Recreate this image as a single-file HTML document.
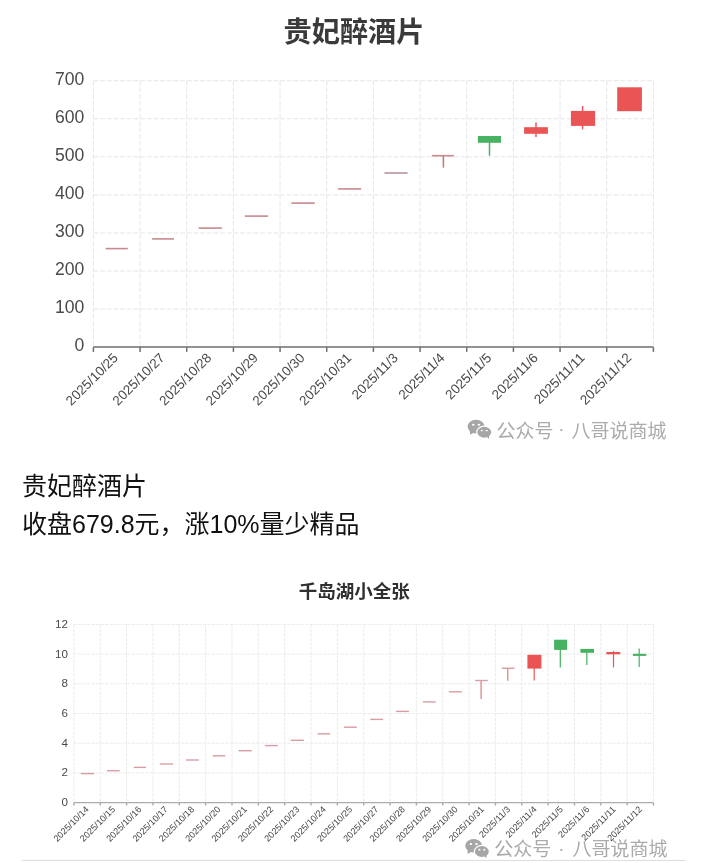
<!DOCTYPE html>
<html><head><meta charset="utf-8"><style>
html,body{margin:0;padding:0;background:#fff;}
body{width:719px;height:863px;overflow:hidden;position:relative;font-family:"Liberation Sans","Noto Sans CJK SC",sans-serif;}
svg{position:absolute;left:0;top:0;}
.p{position:absolute;left:22px;margin:0;font-size:25px;color:#111;white-space:nowrap;line-height:1;}
.wm{position:absolute;font-size:19px;color:#ababab;white-space:nowrap;line-height:1;}
</style></head><body>
<svg width="719" height="863" viewBox="0 0 719 863" font-family="'Liberation Sans', 'Noto Sans CJK SC', sans-serif">
<text x="354" y="41.8" text-anchor="middle" font-size="28.2" font-weight="bold" fill="#3a3a3a" font-family="'Liberation Sans', 'Noto Sans CJK SC', sans-serif">贵妃醉酒片</text>
<g stroke="#e5e6e7" stroke-width="1" stroke-dasharray="4.9 1.77"><line x1="93.4" y1="309.05" x2="653.4" y2="309.05"/><line x1="93.4" y1="271" x2="653.4" y2="271"/><line x1="93.4" y1="232.95" x2="653.4" y2="232.95"/><line x1="93.4" y1="194.9" x2="653.4" y2="194.9"/><line x1="93.4" y1="156.85" x2="653.4" y2="156.85"/><line x1="93.4" y1="118.8" x2="653.4" y2="118.8"/><line x1="93.4" y1="80.75" x2="653.4" y2="80.75"/><line x1="93.4" y1="80.75" x2="93.4" y2="347.1"/><line x1="140.07" y1="80.75" x2="140.07" y2="347.1"/><line x1="186.73" y1="80.75" x2="186.73" y2="347.1"/><line x1="233.4" y1="80.75" x2="233.4" y2="347.1"/><line x1="280.07" y1="80.75" x2="280.07" y2="347.1"/><line x1="326.73" y1="80.75" x2="326.73" y2="347.1"/><line x1="373.4" y1="80.75" x2="373.4" y2="347.1"/><line x1="420.07" y1="80.75" x2="420.07" y2="347.1"/><line x1="466.73" y1="80.75" x2="466.73" y2="347.1"/><line x1="513.4" y1="80.75" x2="513.4" y2="347.1"/><line x1="560.07" y1="80.75" x2="560.07" y2="347.1"/><line x1="606.73" y1="80.75" x2="606.73" y2="347.1"/><line x1="653.4" y1="80.75" x2="653.4" y2="347.1"/></g><g stroke="#6e6e6e" stroke-width="1.5"><line x1="93.4" y1="347.1" x2="653.4" y2="347.1"/><line x1="93.4" y1="347.1" x2="93.4" y2="351.9"/><line x1="140.07" y1="347.1" x2="140.07" y2="351.9"/><line x1="186.73" y1="347.1" x2="186.73" y2="351.9"/><line x1="233.4" y1="347.1" x2="233.4" y2="351.9"/><line x1="280.07" y1="347.1" x2="280.07" y2="351.9"/><line x1="326.73" y1="347.1" x2="326.73" y2="351.9"/><line x1="373.4" y1="347.1" x2="373.4" y2="351.9"/><line x1="420.07" y1="347.1" x2="420.07" y2="351.9"/><line x1="466.73" y1="347.1" x2="466.73" y2="351.9"/><line x1="513.4" y1="347.1" x2="513.4" y2="351.9"/><line x1="560.07" y1="347.1" x2="560.07" y2="351.9"/><line x1="606.73" y1="347.1" x2="606.73" y2="351.9"/><line x1="653.4" y1="347.1" x2="653.4" y2="351.9"/></g><g font-size="17.6" fill="#4a4a4a" text-anchor="end"><text x="84.4" y="351.3">0</text><text x="84.4" y="313.25">100</text><text x="84.4" y="275.2">200</text><text x="84.4" y="237.15">300</text><text x="84.4" y="199.1">400</text><text x="84.4" y="161.05">500</text><text x="84.4" y="123">600</text><text x="84.4" y="84.95">700</text></g><g font-size="13.45" fill="#4a4a4a" text-anchor="end"><text transform="translate(115.73,355.4) rotate(-45)" x="0" y="4.5">2025/10/25</text><text transform="translate(162.4,355.4) rotate(-45)" x="0" y="4.5">2025/10/27</text><text transform="translate(209.07,355.4) rotate(-45)" x="0" y="4.5">2025/10/28</text><text transform="translate(255.73,355.4) rotate(-45)" x="0" y="4.5">2025/10/29</text><text transform="translate(302.4,355.4) rotate(-45)" x="0" y="4.5">2025/10/30</text><text transform="translate(349.07,355.4) rotate(-45)" x="0" y="4.5">2025/10/31</text><text transform="translate(395.73,355.4) rotate(-45)" x="0" y="4.5">2025/11/3</text><text transform="translate(442.4,355.4) rotate(-45)" x="0" y="4.5">2025/11/4</text><text transform="translate(489.07,355.4) rotate(-45)" x="0" y="4.5">2025/11/5</text><text transform="translate(535.73,355.4) rotate(-45)" x="0" y="4.5">2025/11/6</text><text transform="translate(582.4,355.4) rotate(-45)" x="0" y="4.5">2025/11/11</text><text transform="translate(629.07,355.4) rotate(-45)" x="0" y="4.5">2025/11/12</text></g><rect x="105.6" y="247.8" width="22.2" height="1.6" fill="#c98a8f"/><rect x="152.1" y="238.1" width="21.9" height="1.6" fill="#c98a8f"/><rect x="198.6" y="227.3" width="23.3" height="1.6" fill="#c98a8f"/><rect x="244.8" y="215.3" width="23.4" height="1.6" fill="#c98a8f"/><rect x="291.3" y="202.3" width="23.5" height="1.6" fill="#c98a8f"/><rect x="338.1" y="188.1" width="23.1" height="1.6" fill="#c98a8f"/><rect x="384.5" y="172.2" width="23.1" height="1.6" fill="#b8959b"/><line x1="443.4" y1="155.7" x2="443.4" y2="167.6" stroke="#cf7077" stroke-width="1.5"/><rect x="431.9" y="154.9" width="22.1" height="1.6" fill="#c98a8f"/><line x1="489.5" y1="136" x2="489.5" y2="155.7" stroke="#47b262" stroke-width="1.5"/><rect x="477.9" y="136" width="23.1" height="6.8" fill="#47b262"/><line x1="536" y1="122.5" x2="536" y2="136.9" stroke="#eb5454" stroke-width="1.5"/><rect x="524.1" y="127.2" width="23.8" height="6.6" fill="#eb5454"/><line x1="582.6" y1="106" x2="582.6" y2="129.4" stroke="#eb5454" stroke-width="1.5"/><rect x="570.9" y="110.9" width="24.2" height="15" fill="#eb5454"/><rect x="617.2" y="87.3" width="24.7" height="23.9" fill="#eb5454"/>
<text x="354.2" y="598" text-anchor="middle" font-size="18.5" font-weight="bold" fill="#303030" font-family="'Liberation Sans', 'Noto Sans CJK SC', sans-serif">千岛湖小全张</text>
<g stroke="#e7e7e7" stroke-width="0.85" stroke-dasharray="3.3 1.15"><line x1="73.9" y1="772.9" x2="653.5" y2="772.9"/><line x1="73.9" y1="743.2" x2="653.5" y2="743.2"/><line x1="73.9" y1="713.5" x2="653.5" y2="713.5"/><line x1="73.9" y1="683.8" x2="653.5" y2="683.8"/><line x1="73.9" y1="654.1" x2="653.5" y2="654.1"/><line x1="73.9" y1="624.4" x2="653.5" y2="624.4"/><line x1="73.9" y1="624.4" x2="73.9" y2="802.6"/><line x1="100.25" y1="624.4" x2="100.25" y2="802.6"/><line x1="126.59" y1="624.4" x2="126.59" y2="802.6"/><line x1="152.94" y1="624.4" x2="152.94" y2="802.6"/><line x1="179.28" y1="624.4" x2="179.28" y2="802.6"/><line x1="205.63" y1="624.4" x2="205.63" y2="802.6"/><line x1="231.97" y1="624.4" x2="231.97" y2="802.6"/><line x1="258.32" y1="624.4" x2="258.32" y2="802.6"/><line x1="284.66" y1="624.4" x2="284.66" y2="802.6"/><line x1="311.01" y1="624.4" x2="311.01" y2="802.6"/><line x1="337.35" y1="624.4" x2="337.35" y2="802.6"/><line x1="363.7" y1="624.4" x2="363.7" y2="802.6"/><line x1="390.05" y1="624.4" x2="390.05" y2="802.6"/><line x1="416.39" y1="624.4" x2="416.39" y2="802.6"/><line x1="442.74" y1="624.4" x2="442.74" y2="802.6"/><line x1="469.08" y1="624.4" x2="469.08" y2="802.6"/><line x1="495.43" y1="624.4" x2="495.43" y2="802.6"/><line x1="521.77" y1="624.4" x2="521.77" y2="802.6"/><line x1="548.12" y1="624.4" x2="548.12" y2="802.6"/><line x1="574.46" y1="624.4" x2="574.46" y2="802.6"/><line x1="600.81" y1="624.4" x2="600.81" y2="802.6"/><line x1="627.15" y1="624.4" x2="627.15" y2="802.6"/><line x1="653.5" y1="624.4" x2="653.5" y2="802.6"/></g><g stroke="#acacac" stroke-width="1.4"><line x1="73.9" y1="802.6" x2="653.5" y2="802.6"/><line x1="73.9" y1="802.6" x2="73.9" y2="805.6"/><line x1="100.25" y1="802.6" x2="100.25" y2="805.6"/><line x1="126.59" y1="802.6" x2="126.59" y2="805.6"/><line x1="152.94" y1="802.6" x2="152.94" y2="805.6"/><line x1="179.28" y1="802.6" x2="179.28" y2="805.6"/><line x1="205.63" y1="802.6" x2="205.63" y2="805.6"/><line x1="231.97" y1="802.6" x2="231.97" y2="805.6"/><line x1="258.32" y1="802.6" x2="258.32" y2="805.6"/><line x1="284.66" y1="802.6" x2="284.66" y2="805.6"/><line x1="311.01" y1="802.6" x2="311.01" y2="805.6"/><line x1="337.35" y1="802.6" x2="337.35" y2="805.6"/><line x1="363.7" y1="802.6" x2="363.7" y2="805.6"/><line x1="390.05" y1="802.6" x2="390.05" y2="805.6"/><line x1="416.39" y1="802.6" x2="416.39" y2="805.6"/><line x1="442.74" y1="802.6" x2="442.74" y2="805.6"/><line x1="469.08" y1="802.6" x2="469.08" y2="805.6"/><line x1="495.43" y1="802.6" x2="495.43" y2="805.6"/><line x1="521.77" y1="802.6" x2="521.77" y2="805.6"/><line x1="548.12" y1="802.6" x2="548.12" y2="805.6"/><line x1="574.46" y1="802.6" x2="574.46" y2="805.6"/><line x1="600.81" y1="802.6" x2="600.81" y2="805.6"/><line x1="627.15" y1="802.6" x2="627.15" y2="805.6"/><line x1="653.5" y1="802.6" x2="653.5" y2="805.6"/></g><g font-size="11.6" fill="#4a4a4a" text-anchor="end"><text x="67.9" y="806.1">0</text><text x="67.9" y="776.4">2</text><text x="67.9" y="746.7">4</text><text x="67.9" y="717">6</text><text x="67.9" y="687.3">8</text><text x="67.9" y="657.6">10</text><text x="67.9" y="627.9">12</text></g><g font-size="9.1" fill="#454545" text-anchor="end"><text transform="translate(87.27,807.9) rotate(-45)" x="0" y="3">2025/10/14</text><text transform="translate(113.62,807.9) rotate(-45)" x="0" y="3">2025/10/15</text><text transform="translate(139.96,807.9) rotate(-45)" x="0" y="3">2025/10/16</text><text transform="translate(166.31,807.9) rotate(-45)" x="0" y="3">2025/10/17</text><text transform="translate(192.65,807.9) rotate(-45)" x="0" y="3">2025/10/18</text><text transform="translate(219,807.9) rotate(-45)" x="0" y="3">2025/10/20</text><text transform="translate(245.35,807.9) rotate(-45)" x="0" y="3">2025/10/21</text><text transform="translate(271.69,807.9) rotate(-45)" x="0" y="3">2025/10/22</text><text transform="translate(298.04,807.9) rotate(-45)" x="0" y="3">2025/10/23</text><text transform="translate(324.38,807.9) rotate(-45)" x="0" y="3">2025/10/24</text><text transform="translate(350.73,807.9) rotate(-45)" x="0" y="3">2025/10/25</text><text transform="translate(377.07,807.9) rotate(-45)" x="0" y="3">2025/10/27</text><text transform="translate(403.42,807.9) rotate(-45)" x="0" y="3">2025/10/28</text><text transform="translate(429.76,807.9) rotate(-45)" x="0" y="3">2025/10/29</text><text transform="translate(456.11,807.9) rotate(-45)" x="0" y="3">2025/10/30</text><text transform="translate(482.45,807.9) rotate(-45)" x="0" y="3">2025/10/31</text><text transform="translate(508.8,807.9) rotate(-45)" x="0" y="3">2025/11/3</text><text transform="translate(535.15,807.9) rotate(-45)" x="0" y="3">2025/11/4</text><text transform="translate(561.49,807.9) rotate(-45)" x="0" y="3">2025/11/5</text><text transform="translate(587.84,807.9) rotate(-45)" x="0" y="3">2025/11/6</text><text transform="translate(614.18,807.9) rotate(-45)" x="0" y="3">2025/11/11</text><text transform="translate(640.53,807.9) rotate(-45)" x="0" y="3">2025/11/12</text></g><rect x="80.8" y="772.9" width="13.3" height="1.4" fill="#d99ea3"/><rect x="107" y="770" width="12.7" height="1.4" fill="#d99ea3"/><rect x="133.7" y="766.7" width="12.3" height="1.4" fill="#d99ea3"/><rect x="159.8" y="763.3" width="13.3" height="1.4" fill="#d99ea3"/><rect x="186" y="759.3" width="12.7" height="1.4" fill="#d99ea3"/><rect x="212.7" y="755.1" width="12.7" height="1.4" fill="#d99ea3"/><rect x="238.5" y="750" width="13.3" height="1.4" fill="#d99ea3"/><rect x="264.9" y="744.9" width="12.9" height="1.4" fill="#d99ea3"/><rect x="290.7" y="739.6" width="13.2" height="1.4" fill="#d99ea3"/><rect x="317.5" y="733.1" width="12.6" height="1.4" fill="#d99ea3"/><rect x="343.9" y="726.5" width="12.9" height="1.4" fill="#d99ea3"/><rect x="370.2" y="718.7" width="12.9" height="1.4" fill="#d99ea3"/><rect x="396.1" y="710.7" width="12.9" height="1.4" fill="#d99ea3"/><rect x="422.8" y="701.2" width="12.9" height="1.4" fill="#d99ea3"/><rect x="448.9" y="691.1" width="12.9" height="1.4" fill="#d99ea3"/><line x1="481.1" y1="680.5" x2="481.1" y2="699" stroke="#e07b80" stroke-width="1.2"/><rect x="475.1" y="679.8" width="12.7" height="1.4" fill="#d99ea3"/><line x1="507.8" y1="668.3" x2="507.8" y2="680.7" stroke="#e07b80" stroke-width="1.2"/><rect x="501.8" y="667.6" width="12.7" height="1.4" fill="#d99ea3"/><line x1="534.2" y1="660" x2="534.2" y2="680.6" stroke="#eb5454" stroke-width="1.2"/><rect x="527.4" y="654.8" width="14" height="13.8" fill="#eb5454"/><line x1="560.3" y1="645" x2="560.3" y2="667.4" stroke="#47b262" stroke-width="1.2"/><rect x="554.1" y="639.7" width="13" height="10.2" fill="#47b262"/><line x1="586.8" y1="650" x2="586.8" y2="665" stroke="#47b262" stroke-width="1.2"/><rect x="580.4" y="648.9" width="13.6" height="3.9" fill="#47b262"/><line x1="613.5" y1="651" x2="613.5" y2="667.4" stroke="#eb5454" stroke-width="1.2"/><rect x="606.3" y="652" width="14" height="2.3" fill="#eb5454"/><line x1="639.2" y1="648.5" x2="639.2" y2="667" stroke="#47b262" stroke-width="1.2"/><rect x="632.9" y="653.8" width="13.3" height="2.1" fill="#47b262"/>
<line x1="22.2" y1="860.4" x2="685.8" y2="860.4" stroke="#dcdcdc" stroke-width="1"/>
<g transform="translate(467.6,419.8) scale(1.0)" fill="#a6a6a6">
<ellipse cx="8.45" cy="6.8" rx="8.45" ry="6.8"/>
<path d="M2.2,11 L2.6,14.9 L6.5,12.6 Z"/>
<ellipse cx="16.65" cy="12.45" rx="7.55" ry="6.05" stroke="#fff" stroke-width="1.2"/>
<path d="M19.2,17 L21.2,19.2 L21.6,15.6 Z"/>
<ellipse cx="5.7" cy="4.9" rx="1.3" ry="1.0" fill="#fff"/><ellipse cx="11.3" cy="4.9" rx="1.3" ry="1.0" fill="#fff"/>
<ellipse cx="14.2" cy="10.7" rx="1.1" ry="0.85" fill="#fff"/><ellipse cx="19.1" cy="10.7" rx="1.1" ry="0.85" fill="#fff"/>
</g>
<g transform="translate(465.2,839) scale(1.0)" fill="#a6a6a6">
<ellipse cx="8.45" cy="6.8" rx="8.45" ry="6.8"/>
<path d="M2.2,11 L2.6,14.9 L6.5,12.6 Z"/>
<ellipse cx="16.65" cy="12.45" rx="7.55" ry="6.05" stroke="#fff" stroke-width="1.2"/>
<path d="M19.2,17 L21.2,19.2 L21.6,15.6 Z"/>
<ellipse cx="5.7" cy="4.9" rx="1.3" ry="1.0" fill="#fff"/><ellipse cx="11.3" cy="4.9" rx="1.3" ry="1.0" fill="#fff"/>
<ellipse cx="14.2" cy="10.7" rx="1.1" ry="0.85" fill="#fff"/><ellipse cx="19.1" cy="10.7" rx="1.1" ry="0.85" fill="#fff"/>
</g>
</svg>
<div class="p" style="top:474.3px">贵妃醉酒片</div>
<div class="p" style="top:512px">收盘679.8元，涨10%量少精品</div>
<div class="wm" style="left:496.6px;top:421.5px">公众号</div><div class="wm" style="left:558.2px;top:419px">·</div><div class="wm" style="left:571.6px;top:421.5px">八哥说商城</div>
<div class="wm" style="left:494.3px;top:840.4px">公众号</div><div class="wm" style="left:558.3px;top:839.2px">·</div><div class="wm" style="left:572.4px;top:840.4px">八哥说商城</div>
</body></html>
